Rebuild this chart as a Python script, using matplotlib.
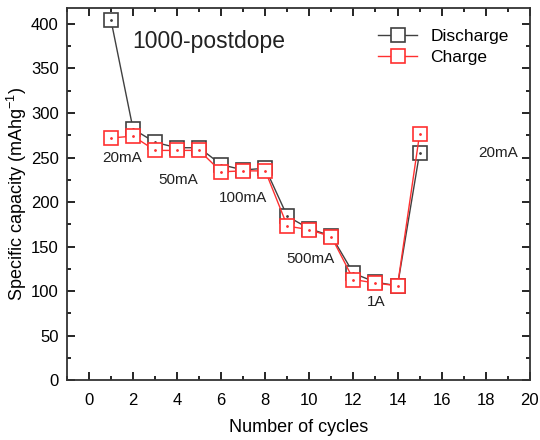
import numpy as np
import matplotlib
matplotlib.use("Agg")
import matplotlib.pyplot as plt
from matplotlib.ticker import MultipleLocator

plt.rcParams['font.family'] = ['Liberation Sans', 'DejaVu Sans']
plt.rcParams['mathtext.fontset'] = 'custom'
plt.rcParams['mathtext.rm'] = 'Liberation Sans'
plt.rcParams['mathtext.default'] = 'rm'

cycles = [1, 2, 3, 4, 5, 6, 7, 8, 9, 10, 11, 12, 13, 14, 15]
discharge = [404, 282, 267, 261, 261, 242, 236, 238, 184, 170, 162, 120, 110, 106, 255]
charge = [272, 274, 258, 258, 258, 234, 235, 235, 173, 169, 161, 113, 109, 106, 276]

rates = ["20mA", "50mA", "100mA", "500mA", "1A", "20mA"]
rate_pos = [(1.5, 250), (4.05, 225), (7.0, 204), (10.05, 136), (13.05, 88), (18.55, 255)]

fig = plt.figure(figsize=(5.4, 4.4), dpi=100)
ax = fig.add_axes([0.124, 0.136, 0.857, 0.846])

dcol = '#404040'
ccol = '#ff3030'
ax.plot(cycles, discharge, '-', color=dcol, lw=1, marker='s', ms=9.5,
        mfc='white', mec=dcol, mew=1.2, label='Discharge')
ax.plot(cycles, discharge, '.', color=dcol, ms=2)
ax.plot(cycles, charge, '-', color=ccol, lw=1, marker='s', ms=9.5,
        mfc='white', mec=ccol, mew=1.2, label='Charge')
ax.plot(cycles, charge, '.', color=ccol, ms=2)

for t, (x, y) in zip(rates, rate_pos):
    ax.text(x, y, t, ha='center', va='center', fontsize=11, color='#222222')
ax.text(1.95, 380, '1000-postdope', ha='left', va='center', fontsize=16.5, color='#222222')

ax.set_xlim(-1, 20)
ax.set_ylim(0, 418)
ax.xaxis.set_major_locator(MultipleLocator(2))
ax.xaxis.set_minor_locator(MultipleLocator(1))
ax.yaxis.set_major_locator(MultipleLocator(50))
ax.yaxis.set_minor_locator(MultipleLocator(25))
ax.tick_params(which='both', direction='in', top=True, right=True, labelsize=12, width=1.2)
ax.tick_params(axis='x', which='major', length=6, pad=9)
ax.tick_params(axis='y', which='major', length=6, pad=6)
ax.tick_params(which='minor', length=3)
for s in ax.spines.values():
    s.set_linewidth(1.3)
    s.set_color('#333333')

ax.set_xlabel('Number of cycles', fontsize=13, labelpad=8)
ax.set_ylabel('Specific capacity (mAhg$^{-1}$)', fontsize=13, labelpad=1)

ax.legend(loc='upper right', frameon=False, fontsize=12.5, handlelength=2.2,
          borderaxespad=0.8, labelspacing=0.35)

fig.savefig('out.png', dpi=100)
